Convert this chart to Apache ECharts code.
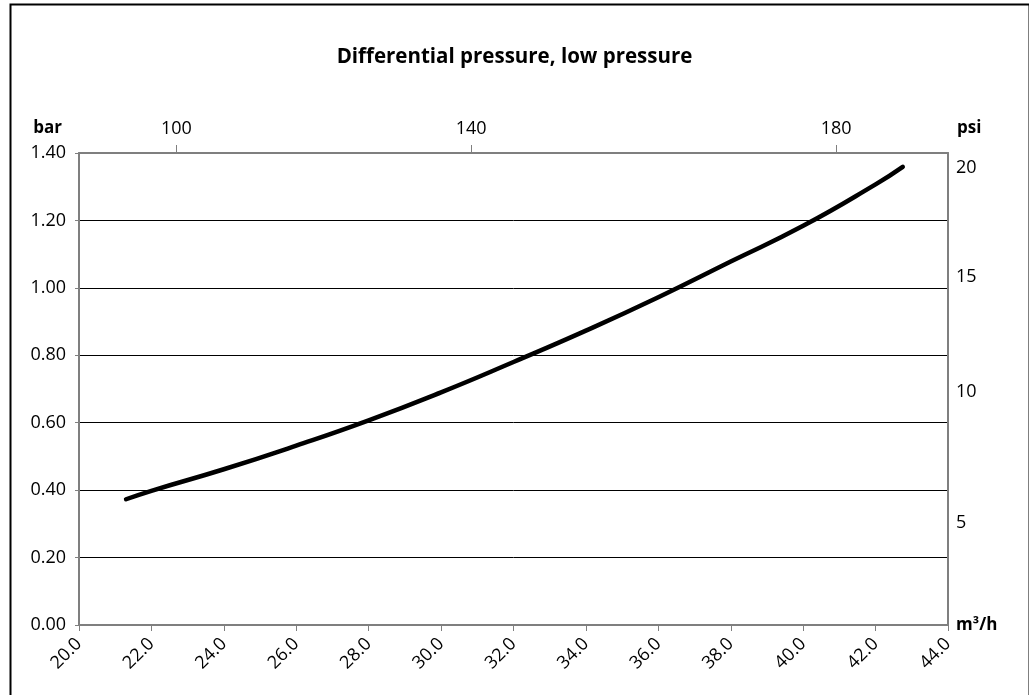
<!DOCTYPE html>
<html>
<head>
<meta charset="utf-8">
<script src="https://cdn.jsdelivr.net/npm/echarts@6/dist/echarts.min.js"></script>
<style>html,body{margin:0;padding:0;background:#fff}#c{width:1029px;height:695px}</style>
</head>
<body>
<div id="c"></div>
<script>
// Flow (m³/h) and differential pressure (bar)
var flow = [21.3, 22.0, 24.0, 26.0, 28.0, 30.0, 32.0, 34.0, 36.0, 38.0, 40.0, 42.0, 42.75];
var pressure = [0.373, 0.398, 0.462, 0.532, 0.607, 0.690, 0.780, 0.873, 0.972, 1.078, 1.184, 1.307, 1.359];
// top axis (US gpm) tick labels and where they sit on the m³/h scale (as read)
var gpmLabels = ['100', '140', '180'];
var gpmLabelAtFlow = [22.69, 30.83, 40.91];
// right axis psi labels and where they sit on the bar scale (as read)
var psiLabels = ['20', '15', '10', '5'];
var psiLabelAtBar = [1.3555, 1.0322, 0.6911, 0.3025];

var FONT = 'Open Sans';
var data = flow.map(function (f, i) { return [f, pressure[i]]; });
function lookup(values, labels, v) {
  for (var i = 0; i < values.length; i++) if (Math.abs(values[i] - v) < 1e-6) return labels[i];
  return '';
}
var chart = echarts.init(document.getElementById('c'), null, { renderer: 'canvas' });
var gray = '#7f7f7f';
chart.setOption({
  animation: false,
  backgroundColor: '#fff',
  textStyle: { fontFamily: FONT },
  title: {
    text: 'Differential pressure, low pressure',
    left: 'center', top: 42,
    textStyle: { fontFamily: FONT, fontSize: 20.5, fontWeight: 'bold', color: '#000' }
  },
  graphic: [{
    type: 'rect', left: 8, top: 2,
    shape: { width: 1019, height: 705 },
    style: { fill: 'none', stroke: '#000', lineWidth: 2 }
  }],
  grid: { left: 79, top: 153, right: 81, bottom: 70, containLabel: false },
  xAxis: [{
    type: 'value', position: 'bottom', min: 20, max: 44, interval: 2,
    name: 'm³/h', nameLocation: 'end', nameGap: 8,
    nameTextStyle: { fontFamily: FONT, fontSize: 17, fontWeight: 'bold', color: '#000', verticalAlign: 'middle', padding: [0, 0, 12, 0] },
    axisLine: { show: true, onZero: false, lineStyle: { color: gray, width: 2 } },
    axisTick: { show: true, inside: false, length: 6, lineStyle: { color: gray, width: 1 } },
    axisLabel: { rotate: 45, fontSize: 18, color: '#000', margin: 16, formatter: function (v) { return v.toFixed(1); } },
    splitLine: { show: false }
  }, {
    type: 'value', position: 'top', min: 20, max: 44,
    axisLine: { show: true, onZero: false, lineStyle: { color: gray, width: 2 } },
    axisTick: { show: true, inside: false, length: 8, customValues: gpmLabelAtFlow, lineStyle: { color: gray, width: 1 } },
    axisLabel: {
      fontSize: 18, color: '#000', margin: 15, customValues: gpmLabelAtFlow,
      formatter: function (v) { return lookup(gpmLabelAtFlow, gpmLabels, v); }
    },
    splitLine: { show: false }
  }],
  yAxis: [{
    type: 'value', position: 'left', min: 0, max: 1.4, interval: 0.2,
    name: 'bar', nameLocation: 'end', nameGap: 16,
    nameTextStyle: { fontFamily: FONT, fontSize: 17, fontWeight: 'bold', color: '#000', align: 'right', padding: [0, 17, 0, 0] },
    axisLine: { show: true, onZero: false, lineStyle: { color: gray, width: 2 } },
    axisTick: { show: true, inside: false, length: 4, lineStyle: { color: gray, width: 1 } },
    axisLabel: { fontSize: 18, color: '#000', margin: 13, formatter: function (v) { return v.toFixed(2); } },
    splitLine: { show: true, lineStyle: { color: '#000', width: 1 } }
  }, {
    type: 'value', position: 'right', min: 0, max: 1.4,
    name: 'psi', nameLocation: 'end', nameGap: 16,
    nameTextStyle: { fontFamily: FONT, fontSize: 17, fontWeight: 'bold', color: '#000', align: 'left', padding: [0, 0, 0, 9] },
    axisLine: { show: true, onZero: false, lineStyle: { color: gray, width: 2 } },
    axisTick: { show: false },
    axisLabel: {
      fontSize: 18, color: '#000', margin: 8, customValues: psiLabelAtBar,
      formatter: function (v) { return lookup(psiLabelAtBar, psiLabels, v); }
    },
    splitLine: { show: false }
  }],
  series: [{
    type: 'line', xAxisIndex: 0, yAxisIndex: 0, data: data,
    smooth: 0.5, showSymbol: false, symbol: 'none',
    lineStyle: { color: '#000', width: 4.5, cap: 'round' }
  }]
});
</script>
</body>
</html>
